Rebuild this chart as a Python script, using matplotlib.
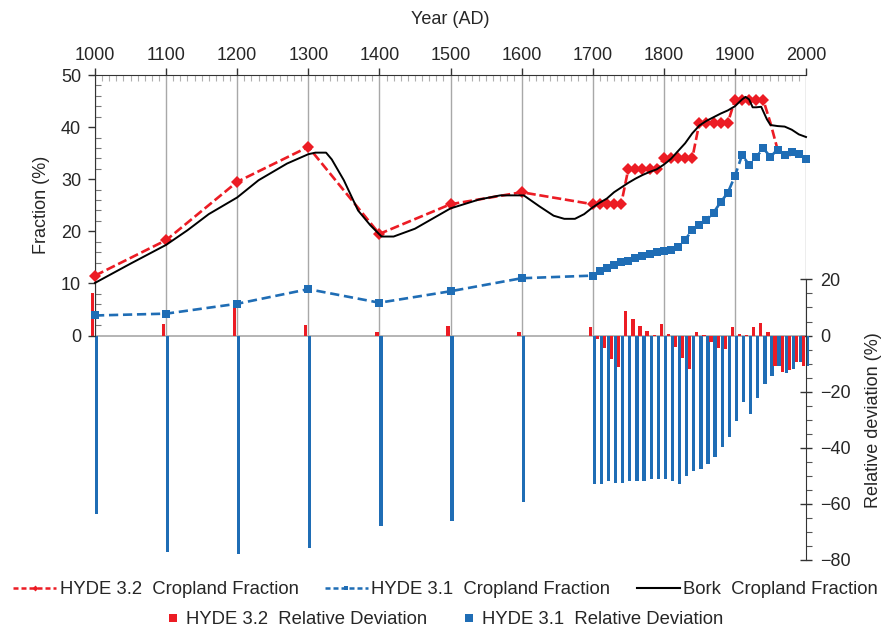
import matplotlib
matplotlib.use('Agg')
import matplotlib.pyplot as plt
from matplotlib.ticker import FixedLocator, MultipleLocator
from matplotlib.lines import Line2D

plt.rcParams['font.family'] = ['Liberation Sans', 'DejaVu Sans']

# ---------------- data ----------------
hyde_years = [1000, 1100, 1200, 1300, 1400, 1500, 1600,
              1700, 1710, 1720, 1730, 1740, 1750, 1760, 1770, 1780, 1790,
              1800, 1810, 1820, 1830, 1840, 1850, 1860, 1870, 1880, 1890,
              1900, 1910, 1920, 1930, 1940, 1950, 1960, 1970, 1980, 1990, 2000]

hyde32_frac = [11.5, 18.3, 29.5, 36.2, 19.5, 25.2, 27.5,
               25.2, 25.2, 25.2, 25.2, 25.2,
               31.9, 31.9, 31.9, 31.9, 31.9,
               34.0, 34.0, 34.0, 34.0, 34.0,
               40.8, 40.8, 40.8, 40.8, 40.8,
               45.2, 45.2, 45.2, 45.2, 45.2,
               40.8, 35.7, 34.8, 34.6, 34.8, 33.9]

hyde31_frac = [3.85, 4.2, 6.1, 8.9, 6.3, 8.5, 11.0,
               11.5, 12.4, 13.0, 13.6, 14.1, 14.4, 14.9, 15.3, 15.7, 16.0,
               16.3, 16.5, 16.9, 18.4, 20.2, 21.3, 22.2, 23.6, 25.6, 27.4,
               30.6, 34.6, 32.8, 34.3, 35.9, 34.3, 35.7, 34.6, 35.3, 34.9, 33.8]

hyde32_dev = [15.2, 4.0, 10.1, 3.8, 1.4, 3.5, 1.4,
              3.0, -1.2, -4.3, -8.5, -11.3,
              8.9, 6.0, 3.5, 1.5, 0.3,
              4.0, 0.5, -4.2, -7.9, -11.9,
              1.4, 0.3, -2.4, -4.3, -4.8,
              3.2, 0.6, 0.3, 3.2, 4.6,
              1.4, -10.7, -13.0, -12.3, -9.5, -11.0]

hyde31_dev = [-63.7, -77.0, -78.0, -75.8, -67.9, -66.0, -59.5,
              -53.0, -53.0, -52.0, -52.5, -52.5, -52.0, -52.0, -52.0, -51.3, -51.3,
              -51.3, -52.0, -53.0, -50.0, -48.2, -47.7, -45.8, -43.2, -39.9, -36.3,
              -30.3, -23.8, -28.1, -22.1, -17.3, -14.3, -10.7, -13.2, -12.0, -9.3, -11.0]

bork_years = [1000, 1050, 1100, 1130, 1160, 1200, 1230, 1270, 1300, 1310, 1325,
              1333, 1350, 1370, 1387, 1403, 1420, 1450, 1500, 1540, 1570, 1603,
              1625, 1645, 1660, 1675, 1688, 1700, 1710, 1720, 1730, 1740, 1750,
              1760, 1770, 1780, 1790, 1800, 1810, 1820, 1830, 1840, 1850, 1860,
              1870, 1880, 1890, 1900, 1910, 1915, 1920, 1925, 1930, 1937, 1945,
              1950, 1960, 1970, 1980, 1990, 2000]
bork_frac = [10.1, 13.8, 17.4, 20.2, 23.3, 26.5, 29.8, 33.0, 34.8, 35.1, 35.1,
             33.8, 29.8, 24.0, 21.2, 19.0, 19.0, 20.5, 24.4, 26.1, 26.9, 26.9,
             24.8, 23.0, 22.4, 22.4, 23.3, 24.6, 25.5, 26.3, 27.5, 28.4, 29.3,
             30.1, 30.8, 31.4, 31.9, 32.8, 33.9, 35.4, 36.9, 38.8, 40.3, 41.2,
             41.9, 42.6, 43.2, 44.0, 45.3, 45.8, 45.3, 43.8, 43.8, 43.9, 41.5,
             40.4, 40.2, 40.1, 39.5, 38.6, 38.1]

year_ticks = [1000, 1100, 1200, 1300, 1400, 1500, 1600, 1700, 1800, 1900, 2000]
frac_ticks = [0, 10, 20, 30, 40, 50]
dev_ticks = [-80, -60, -40, -20, 0, 20]
hyde32_last_marked_year = 1940

# ---------------- style ----------------
RED = '#EC1C24'
BLUE = '#1F6DB5'
GRID = '#A8A8A8'
TXT = '#262626'
FS = 13

W, H = 884, 630
fig = plt.figure(figsize=(W / 100, H / 100), dpi=100)
x0, x1, ytop, ybot = 95, 806, 75, 560
ax = fig.add_axes([x0 / W, 1 - ybot / H, (x1 - x0) / W, (ybot - ytop) / H])
axb = ax.twinx()
ax.set_zorder(axb.get_zorder() + 1)
ax.patch.set_visible(False)

dev_top = 92.86
frac_bot = -50 * 80 / dev_top
ax.set_xlim(1000, 2000)
ax.set_ylim(frac_bot, 50)
axb.set_ylim(-80, dev_top)

# grid + zero line (on the lower axes)
axb.vlines(year_ticks, 0, dev_top, colors=GRID, lw=1.0, zorder=1)
axb.axhline(0, color=GRID, lw=1.2, zorder=1.5)

# deviation bars
axb.bar([y - 3.5 for y in hyde_years], hyde32_dev, width=4.6, color=RED,
        zorder=3, clip_on=False, linewidth=0)
axb.bar([y + 2.2 for y in hyde_years], hyde31_dev, width=4.6, color=BLUE,
        zorder=2, clip_on=False, linewidth=0)

# fraction lines
marked = [i for i, y in enumerate(hyde_years) if y <= hyde32_last_marked_year]
ax.plot(hyde_years, hyde32_frac, color=RED, lw=1.9, ls=(0, (3.5, 1.4)),
        marker='D', markersize=5.8, markeredgewidth=0, markevery=marked,
        clip_on=False, zorder=3)
ax.plot(hyde_years, hyde31_frac, color=BLUE, lw=1.9, ls=(0, (3.5, 1.8)),
        marker='s', markersize=5.4, markeredgewidth=0, clip_on=False, zorder=4)
ax.plot(bork_years, bork_frac, color='black', lw=1.4, clip_on=False, zorder=5)

# spines
for s in ['right', 'bottom']:
    ax.spines[s].set_visible(False)
ax.spines['left'].set_bounds(0, 50)
ax.spines['left'].set_color('#333333')
ax.spines['top'].set_color('#333333')
for s in ['left', 'top', 'bottom']:
    axb.spines[s].set_visible(False)
axb.spines['right'].set_bounds(-80, 20)
axb.spines['right'].set_color('#333333')

# x axis (top)
ax.xaxis.tick_top()
ax.xaxis.set_major_locator(FixedLocator(year_ticks))
ax.xaxis.set_minor_locator(MultipleLocator(10))
ax.tick_params(axis='x', which='major', direction='out', length=5, width=1,
               pad=3, labelsize=FS, labelcolor=TXT, color='#333333')
ax.tick_params(axis='x', which='minor', direction='in', length=4, width=0.8,
               color='#B0B0B0')

# left y axis
ax.yaxis.set_major_locator(FixedLocator(frac_ticks))
ax.yaxis.set_minor_locator(FixedLocator(list(range(0, 51, 2))))
ax.tick_params(axis='y', which='major', direction='out', length=5, width=1,
               pad=5, labelsize=FS, labelcolor=TXT, color='#333333')
ax.tick_params(axis='y', which='minor', direction='in', length=4, width=0.8,
               color='#777777')

# right y axis
axb.yaxis.set_major_locator(FixedLocator(dev_ticks))
axb.yaxis.set_minor_locator(FixedLocator(list(range(-80, 21, 5))))
axb.tick_params(axis='y', which='major', direction='inout', length=8, width=1,
                pad=6, labelsize=FS, labelcolor=TXT, color='#333333')
axb.tick_params(axis='y', which='minor', direction='out', length=4, width=0.8,
                color='#555555')

# axis titles
fig.text(450.5 / W, 1 - 20 / H, 'Year (AD)', ha='center', va='center',
         fontsize=FS, color=TXT)
fig.text(42 / W, 1 - 205 / H, 'Fraction (%)', ha='center', va='center',
         rotation=90, fontsize=FS, color=TXT)
fig.text(873 / W, 1 - 420 / H, 'Relative deviation (%)', ha='center',
         va='center', rotation=90, fontsize=FS, color=TXT)

# legends
h1 = Line2D([], [], color=RED, lw=1.8, ls=(0, (2.0, 1.2)), marker='D', markersize=3,
            markeredgewidth=0)
h2 = Line2D([], [], color=BLUE, lw=1.8, ls=(0, (2.0, 1.2)), marker='s', markersize=3,
            markeredgewidth=0)
h3 = Line2D([], [], color='black', lw=1.5)
fig.legend([h1, h2, h3],
           ['HYDE 3.2  Cropland Fraction', 'HYDE 3.1  Cropland Fraction',
            'Bork  Cropland Fraction'],
           loc='center', bbox_to_anchor=(0.504, 1 - 590 / H), ncol=3,
           frameon=False, fontsize=13.3, handlelength=2.33, handletextpad=0.2,
           columnspacing=1.41, borderpad=0, borderaxespad=0, labelcolor=TXT)
b1 = Line2D([], [], ls='none', marker='s', markersize=5.5, color=RED,
            markeredgewidth=0)
b2 = Line2D([], [], ls='none', marker='s', markersize=5.5, color=BLUE,
            markeredgewidth=0)
fig.legend([b1, b2], ['HYDE 3.2  Relative Deviation', 'HYDE 3.1  Relative Deviation'],
           loc='center', bbox_to_anchor=(0.504, 1 - 620 / H), ncol=2,
           frameon=False, fontsize=13.3, handlelength=0.6, handletextpad=0.4,
           columnspacing=2.0, borderpad=0, borderaxespad=0, labelcolor=TXT)

fig.savefig('out.png', dpi=100)
